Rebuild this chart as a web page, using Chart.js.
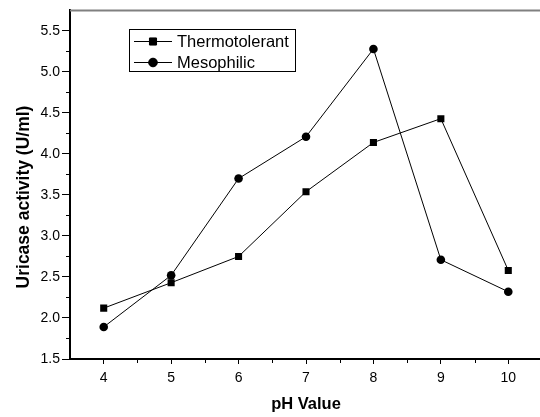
<!DOCTYPE html>
<html>
<head>
<meta charset="utf-8">
<script src="https://cdn.jsdelivr.net/npm/chart.js"></script>
<style>
  body { margin: 0; background: #fff; overflow: hidden; }
  #wrap { width: 547px; height: 417px; }
</style>
</head>
<body>
<div id="wrap"><canvas id="phChart"></canvas></div>
<script>
var phValues = [4, 5, 6, 7, 8, 9, 10];
var thermotolerant = [2.12, 2.43, 2.75, 3.54, 4.14, 4.43, 2.58];
var mesophilic = [1.89, 2.52, 3.70, 4.21, 5.28, 2.71, 2.32];
var xTickLabels = [4, 5, 6, 7, 8, 9, 10];
var yTickLabels = [1.5, 2.0, 2.5, 3.0, 3.5, 4.0, 4.5, 5.0, 5.5];
var xMinorTicks = [4.5, 5.5, 6.5, 7.5, 8.5, 9.5];
var yMinorTicks = [1.75, 2.25, 2.75, 3.25, 3.75, 4.25, 4.75, 5.25];

var FONT = "'Liberation Sans', Arial, sans-serif";

function points(ys) {
  return ys.map(function (y, i) { return { x: phValues[i], y: y }; });
}

// minor ticks, frame, axis titles and the boxed legend
var decor = {
  id: 'decor',
  afterDraw: function (chart) {
    var ctx = chart.ctx, a = chart.chartArea;
    var sx = chart.scales.x, sy = chart.scales.y;
    ctx.save();
    ctx.strokeStyle = '#000';
    ctx.lineWidth = 1;
    ctx.beginPath();
    xMinorTicks.forEach(function (v) {
      var px = Math.round(sx.getPixelForValue(v)) + 0.5;
      ctx.moveTo(px, a.bottom); ctx.lineTo(px, a.bottom + 4);
    });
    yMinorTicks.forEach(function (v) {
      var py = Math.round(sy.getPixelForValue(v)) + 0.5;
      ctx.moveTo(a.left - 4, py); ctx.lineTo(a.left, py);
    });
    ctx.stroke();

    ctx.strokeStyle = '#808080';
    ctx.lineWidth = 2;
    ctx.beginPath();
    ctx.moveTo(a.left, a.top); ctx.lineTo(a.right, a.top);
    ctx.moveTo(a.right, a.top); ctx.lineTo(a.right, a.bottom);
    ctx.stroke();

    ctx.fillStyle = '#000';
    ctx.font = 'bold 16.5px ' + FONT;
    ctx.textAlign = 'center';
    ctx.textBaseline = 'alphabetic';
    ctx.fillText('pH Value', (a.left + a.right) / 2, 409);
    ctx.font = 'bold 17.5px ' + FONT;
    ctx.translate(29, 197);
    ctx.rotate(-Math.PI / 2);
    ctx.fillText('Uricase activity (U/ml)', 0, 0);
    ctx.restore();

    // legend box
    ctx.save();
    ctx.strokeStyle = '#000';
    ctx.lineWidth = 1;
    ctx.strokeRect(129.5, 29.5, 166, 42);
    ctx.font = '16.5px ' + FONT;
    ctx.textAlign = 'left';
    ctx.textBaseline = 'middle';
    ctx.fillStyle = '#000';
    var rows = [41, 62];
    chart.data.datasets.forEach(function (ds, i) {
      var y = rows[i];
      ctx.beginPath();
      ctx.moveTo(134, y + 0.5); ctx.lineTo(172, y + 0.5);
      ctx.stroke();
      Chart.helpers.drawPoint(ctx, { pointStyle: ds.pointStyle, radius: ds.pointRadius, borderWidth: 1 }, 153, y + 0.5);
      ctx.fill();
      ctx.fillText(ds.label, 177, y + 1);
    });
    ctx.restore();
  }
};

new Chart(document.getElementById('phChart'), {
  type: 'line',
  data: {
    datasets: [{
      label: 'Thermotolerant',
      data: points(thermotolerant),
      borderColor: '#000',
      backgroundColor: '#000',
      borderWidth: 1,
      pointStyle: 'rect',
      pointRadius: 5,
      pointBorderWidth: 0
    }, {
      label: 'Mesophilic',
      data: points(mesophilic),
      borderColor: '#000',
      backgroundColor: '#000',
      borderWidth: 1,
      pointStyle: 'circle',
      pointRadius: 4.3,
      pointBorderWidth: 0
    }]
  },
  options: {
    animation: false,
    responsive: true,
    maintainAspectRatio: false,
    layout: { padding: { top: 7, left: 0, right: 0, bottom: 0 } },
    plugins: { legend: { display: false }, tooltip: { enabled: false } },
    scales: {
      x: {
        type: 'linear',
        min: 3.5,
        max: 10.5,
        afterBuildTicks: function (s) { s.ticks = xTickLabels.map(function (v) { return { value: v }; }); },
        afterFit: function (s) { s.height = 58; },
        grid: { display: true, drawOnChartArea: false, color: '#000', tickLength: 5, lineWidth: 1 },
        border: { color: '#000', width: 2 },
        ticks: { color: '#000', font: { family: FONT, size: 14 }, padding: 6, maxRotation: 0, autoSkip: false,
          callback: function (v) { return v; } }
      },
      y: {
        min: 1.5,
        max: 5.75,
        afterBuildTicks: function (s) { s.ticks = yTickLabels.map(function (v) { return { value: v }; }); },
        afterFit: function (s) { s.width = 70; },
        grid: { display: true, drawOnChartArea: false, color: '#000', tickLength: 8, lineWidth: 1 },
        border: { color: '#000', width: 2 },
        ticks: { color: '#000', font: { family: FONT, size: 14 }, padding: 2, autoSkip: false,
          callback: function (v) { return v.toFixed(1); } }
      }
    }
  },
  plugins: [decor]
});
</script>
</body>
</html>
